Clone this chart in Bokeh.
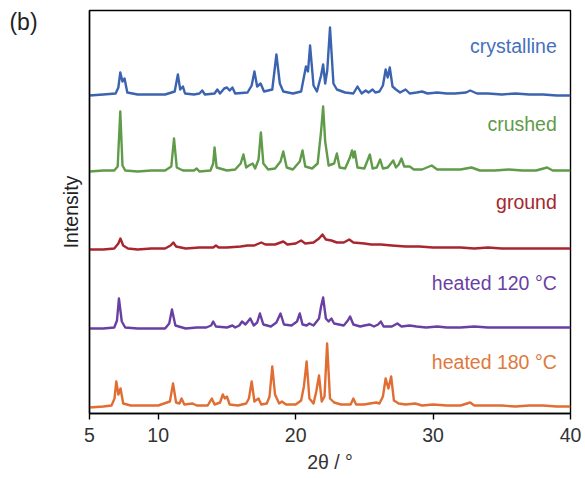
from bokeh.plotting import figure
from bokeh.models import Range1d, Label, FixedTicker
from bokeh.layouts import row
from bokeh.embed import file_html
from bokeh.resources import INLINE

# ---- data (2theta in degrees, intensity in arbitrary units above each baseline) ----
x_ticks = [5, 10, 20, 30, 40]

names = ["crystalline", "crushed", "ground", "heated 120 °C", "heated 180 °C"]
offsets = [318, 242, 166, 85, 7]
label_y = [368, 290, 212, 131, 52]
line_colors = ["#3b63b0", "#5f9b48", "#a8262e", "#6a3fa3", "#e06e32"]
text_colors = ["#4670bd", "#5f9b48", "#a8262e", "#6a3fa3", "#e0783c"]

tt_cryst = [5.0, 6.0, 6.9, 7.1, 7.24, 7.4, 7.55, 7.75, 8.5, 9.5, 10.5, 11.2, 11.43, 11.6, 11.8, 11.95,
            12.6, 13.0, 13.2, 13.4, 14.1, 14.3, 14.5, 14.8, 15.0, 15.2, 15.4, 15.6, 16.5, 16.8, 17.0,
            17.2, 17.45, 17.7, 18.3, 18.6, 18.85, 19.1, 19.8, 20.4, 20.75, 20.9, 21.05, 21.3, 21.55,
            21.85, 22.0, 22.15, 22.3, 22.5, 22.75, 23.0, 23.6, 24.2, 24.5, 24.8, 25.1, 25.3, 25.6,
            25.8, 26.1, 26.35, 26.55, 26.7, 26.85, 27.05, 27.3, 27.6, 28.0, 28.3, 28.8, 29.2, 29.6,
            30.3, 31.0, 31.6, 32.4, 32.7, 33.2, 34.0, 35.0, 36.0, 37.0, 38.0, 39.0, 40.0]
i_cryst = [0, 1, 2, 8, 23, 14, 17, 3, 1, 1, 1, 4, 21, 6, 9, 2,
           1, 2, 5, 1, 2, 6, 2, 7, 8, 5, 8, 2, 3, 10, 24,
           9, 12, 4, 6, 41, 12, 4, 2, 4, 29, 24, 50, 10, 4,
           20, 31, 12, 25, 68, 12, 6, 3, 2, 9, 2, 5, 3, 6,
           3, 4, 10, 26, 18, 28, 9, 6, 3, 6, 2, 3, 4, 2,
           3, 2, 2, 3, 5, 2, 2, 1, 2, 1, 1, 0, 0]

tt_crush = [5.0, 6.0, 6.8, 7.05, 7.24, 7.4, 7.6, 8.5, 9.5, 10.5, 10.95, 11.15, 11.35, 11.8, 12.6,
            12.8, 13.0, 13.8, 14.0, 14.1, 14.25, 15.0, 15.6, 16.0, 16.2, 16.4, 16.6, 16.87, 17.05,
            17.3, 17.47, 17.65, 18.0, 18.5, 18.9, 19.1, 19.35, 19.8, 20.3, 20.5, 20.7, 21.2, 21.6,
            21.85, 22.0, 22.15, 22.4, 22.8, 23.0, 23.2, 23.6, 23.95, 24.1, 24.2, 24.3, 24.5, 25.0,
            25.4, 25.6, 25.9, 26.15, 26.35, 26.7, 27.1, 27.3, 27.5, 27.7, 27.9, 28.3, 28.6, 29.2,
            29.9, 30.3, 31.0, 32.0, 32.8, 33.4, 34.5, 35.5, 36.5, 37.5, 38.3, 38.7, 39.5, 40.0]
i_crush = [0, 1, 1, 5, 60, 6, 1, 0, 1, 1, 5, 33, 4, 1, 1,
           3, 0, 1, 8, 24, 4, 1, 2, 8, 17, 4, 6, 8, 3,
           12, 39, 8, 2, 3, 10, 20, 4, 2, 10, 21, 5, 3, 8,
           40, 65, 30, 6, 8, 18, 4, 3, 14, 21, 14, 20, 4, 3,
           17, 3, 4, 12, 3, 4, 11, 4, 7, 13, 5, 5, 2, 2,
           6, 2, 2, 2, 4, 1, 1, 2, 1, 1, 4, 1, 1, 1]

tt_ground = [5.0, 6.0, 6.8, 7.1, 7.25, 7.45, 7.8, 8.5, 9.5, 10.5, 10.9, 11.1, 11.3, 12.0, 13.0,
             14.0, 14.2, 14.4, 15.0, 16.0, 16.5, 17.0, 17.5, 17.8, 18.5, 19.1, 19.4, 20.0, 20.4,
             20.7, 21.3, 21.7, 21.95, 22.2, 22.6, 23.0, 23.5, 23.9, 24.2, 25.0, 25.5, 26.2, 27.0,
             28.0, 29.0, 30.0, 31.0, 32.0, 33.0, 34.0, 35.0, 36.0, 37.0, 38.0, 39.0, 40.0]
i_ground = [-2, -2, -1, 4, 9, 2, -1, -2, -1, -1, 2, 5, 1, -1, 0,
            0, 2, 0, 0, 1, 2, 2, 5, 3, 3, 6, 3, 4, 7,
            4, 5, 9, 13, 8, 7, 5, 5, 8, 5, 4, 3, 3, 2,
            1, 1, 0, 0, 0, -1, 0, -1, -1, -1, -1, -1, -1]

tt_h120 = [5.0, 6.0, 6.8, 7.0, 7.14, 7.35, 7.6, 8.5, 9.5, 10.5, 10.8, 11.0, 11.25, 12.0, 12.8,
           13.5, 13.85, 14.0, 14.2, 15.0, 15.4, 15.6, 15.9, 16.1, 16.35, 16.7, 16.95, 17.2, 17.4,
           17.65, 18.2, 18.6, 18.9, 19.15, 19.7, 20.1, 20.3, 20.5, 20.8, 21.0, 21.3, 21.7, 21.85,
           22.0, 22.2, 22.4, 22.6, 22.8, 23.5, 23.8, 23.96, 24.2, 24.7, 25.0, 25.4, 25.7, 26.0,
           26.2, 26.4, 27.0, 27.4, 27.7, 28.3, 28.8, 29.5, 30.3, 31.0, 32.0, 33.0, 34.0, 35.0,
           36.0, 37.0, 38.0, 39.0, 40.0]
i_h120 = [0, 0, 1, 8, 30, 7, 1, 0, 0, 0, 5, 19, 3, 0, 1,
          1, 3, 7, 2, 1, 3, 1, 3, 7, 4, 10, 3, 6, 15,
          4, 2, 6, 15, 4, 3, 7, 15, 4, 3, 5, 3, 10, 22,
          31, 10, 7, 10, 5, 3, 8, 12, 4, 2, 3, 4, 2, 4,
          7, 2, 2, 5, 2, 3, 2, 1, 2, 1, 1, 2, 1, 1,
          1, 1, 1, 1, 1]

tt_h180 = [5.0, 6.0, 6.6, 6.82, 6.95, 7.1, 7.26, 7.45, 8.0, 9.0, 10.0, 10.85, 11.08, 11.3, 11.55,
           11.7, 11.9, 12.5, 12.8, 13.6, 13.9, 14.1, 14.5, 14.7, 14.85, 15.0, 15.2, 15.8, 16.4,
           16.6, 16.8, 17.0, 17.3, 17.5, 17.9, 18.1, 18.3, 18.5, 18.8, 19.0, 19.3, 20.0, 20.4,
           20.6, 20.8, 21.0, 21.3, 21.5, 21.7, 21.9, 22.1, 22.29, 22.5, 22.8, 23.3, 24.0, 24.2,
           24.4, 25.0, 25.4, 25.86, 26.1, 26.35, 26.55, 26.75, 26.95, 27.15, 27.5, 28.0, 28.7,
           29.2, 30.0, 31.0, 32.0, 32.7, 33.0, 34.0, 35.0, 36.0, 37.0, 38.0, 39.0, 40.0]
i_h180 = [-1, 0, 1, 8, 25, 12, 18, 3, 1, 1, 1, 5, 23, 4, 3,
          8, 2, 3, 1, 1, 8, 2, 4, 12, 8, 10, 2, 1, 3,
          8, 25, 5, 8, 2, 3, 10, 40, 12, 3, 5, 2, 2, 6,
          20, 45, 8, 3, 15, 31, 5, 10, 63, 8, 4, 2, 2, 8,
          2, 2, 3, 4, 3, 10, 28, 18, 30, 6, 3, 2, 3,
          1, 2, 1, 1, 4, 1, 1, 1, 0, 1, 1, 0, 0]

series_x = [tt_cryst, tt_crush, tt_ground, tt_h120, tt_h180]
series_y = [i_cryst, i_crush, i_ground, i_h120, i_h180]

FONT = "Liberation Sans"
TAG_W = 44

# narrow strip holding the panel tag "(b)"
tag = figure(width=TAG_W, height=478, output_backend="svg", toolbar_location=None,
             x_range=Range1d(0, TAG_W), y_range=Range1d(0, 478),
             x_axis_location=None, y_axis_location=None,
             min_border=0, outline_line_color=None,
             background_fill_color="white", border_fill_color="white")
tag.grid.visible = False
tag.add_layout(Label(x=23, y=464, text="(b)", text_align="center", text_baseline="middle",
                     text_color="#222222", text_font=FONT, text_font_size="23px"))

p = figure(width=585 - TAG_W, height=478, output_backend="svg", toolbar_location=None,
           x_range=Range1d(5, 40), y_range=Range1d(0, 403),
           min_border_left=89 - TAG_W, min_border_right=15, min_border_top=10, min_border_bottom=65,
           background_fill_color="white", border_fill_color="white")
p.grid.visible = False
p.outline_line_color = "black"
p.outline_line_width = 1.4

for xs, ys, off, col in zip(series_x, series_y, offsets, line_colors):
    p.line(xs, [v + off for v in ys], line_color=col, line_width=2.4, line_join="round")

for name, ly, tc in zip(names, label_y, text_colors):
    p.add_layout(Label(x=39.0, y=ly, text=name, text_align="right", text_baseline="middle",
                       text_color=tc, text_font=FONT, text_font_size="19.5px"))

# x axis
xa = p.xaxis[0]
xa.ticker = FixedTicker(ticks=x_ticks)
xa.minor_tick_line_color = None
xa.major_tick_in = 0
xa.major_tick_out = 6
xa.major_tick_line_color = "black"
xa.major_tick_line_width = 1.4
xa.axis_line_color = "black"
xa.axis_line_width = 1.4
xa.major_label_text_font = FONT
xa.major_label_text_font_size = "19.5px"
xa.major_label_text_color = "#333333"
xa.major_label_standoff = 8
xa.axis_label = "2θ / °"
xa.axis_label_text_font = FONT
xa.axis_label_text_font_style = "normal"
xa.axis_label_text_font_size = "19.5px"
xa.axis_label_text_color = "#333333"
xa.axis_label_standoff = 6

# y axis
ya = p.yaxis[0]
ya.ticker = FixedTicker(ticks=[])
ya.major_tick_line_color = None
ya.minor_tick_line_color = None
ya.major_label_text_color = None
ya.axis_line_color = "black"
ya.axis_line_width = 1.4
ya.axis_label = "Intensity"
ya.axis_label_text_font = FONT
ya.axis_label_text_font_style = "normal"
ya.axis_label_text_font_size = "19.5px"
ya.axis_label_text_color = "#222222"
ya.axis_label_standoff = 8

layout = row(tag, p, spacing=0)

open("out.html", "w").write(file_html(layout, INLINE))
